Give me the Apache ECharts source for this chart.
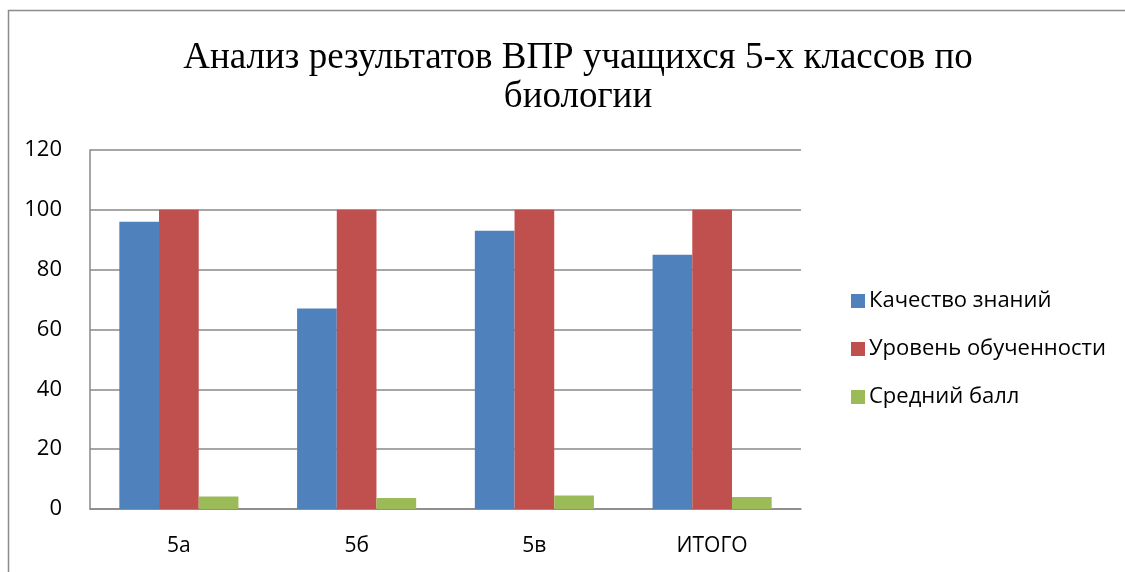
<!DOCTYPE html>
<html><head><meta charset="utf-8">
<script src="https://cdn.jsdelivr.net/npm/echarts@6/dist/echarts.min.js"></script>
<style>html,body{margin:0;padding:0;background:#fff}#c{width:1125px;height:572px}</style>
</head><body><div id="c"></div>
<script>
const categories = ['5а', '5б', '5в', 'ИТОГО'];
const quality = [96, 67, 93, 85];
const level = [100, 100, 100, 100];
const avgScore = [4.2, 3.7, 4.5, 4.0];
const seriesNames = ['Качество знаний', 'Уровень обученности', 'Средний балл'];
const yTicks = [0, 20, 40, 60, 80, 100, 120];

const chart = echarts.init(document.getElementById('c'));
const font = 'Open Sans, Noto Sans, sans-serif';
chart.setOption({
  animation: false,
  title: {
    text: 'Анализ результатов ВПР учащихся 5-х классов по\nбиологии',
    left: 573, top: 34, textAlign: 'center',
    textStyle: { fontFamily: 'Liberation Serif, serif', fontWeight: 'normal', fontSize: 37, lineHeight: 39, color: '#000' }
  },
  graphic: [{
    type: 'rect', shape: { x: 8.5, y: 10.5, width: 1200, height: 700 },
    style: { fill: 'none', stroke: '#8c8c8c', lineWidth: 1.5 }, silent: true
  }],
  legend: {
    orient: 'vertical', left: 846, top: 285, itemGap: 26, itemWidth: 14, itemHeight: 14,
    icon: 'rect',
    textStyle: { fontFamily: font, fontSize: 22, color: '#000', padding: [0, 0, 0, -1] },
    data: seriesNames
  },
  grid: { left: 90, top: 150, width: 711, height: 359, containLabel: false },
  xAxis: {
    type: 'category', data: categories,
    axisLine: { lineStyle: { color: '#888', width: 1.5 } },
    axisTick: { show: false },
    axisLabel: { fontFamily: font, fontSize: 21, color: '#000', margin: 27 }
  },
  yAxis: {
    type: 'value', min: 0, max: 120, interval: 20,
    axisLine: { show: true, lineStyle: { color: '#888', width: 1.5 } },
    axisTick: { show: false },
    splitLine: { lineStyle: { color: '#888', width: 1.5 } },
    axisLabel: { fontFamily: font, fontSize: 22, color: '#000', margin: 28,
      formatter: v => yTicks.includes(v) ? String(v) : '' }
  },
  series: [
    { name: seriesNames[0], type: 'bar', data: quality, barGap: '0%', barCategoryGap: '33%',
      itemStyle: { color: '#4f81bd' } },
    { name: seriesNames[1], type: 'bar', data: level, itemStyle: { color: '#c0504d' } },
    { name: seriesNames[2], type: 'bar', data: avgScore, itemStyle: { color: '#9bbb59' } }
  ]
});
</script></body></html>
